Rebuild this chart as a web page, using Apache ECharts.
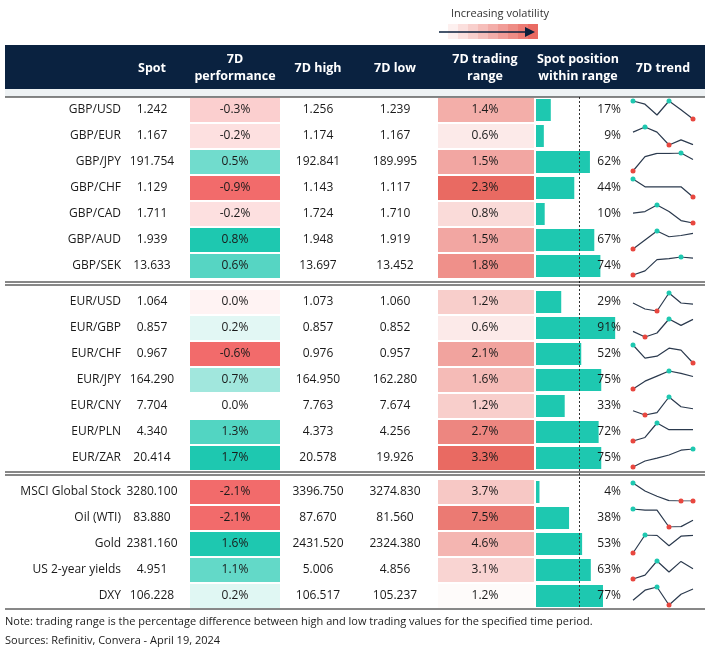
<!DOCTYPE html>
<html><head><meta charset="utf-8">
<script src="https://cdn.jsdelivr.net/npm/echarts@6/dist/echarts.min.js"></script>
<style>html,body{margin:0;padding:0;background:#fff}#c{width:711px;height:654px}</style>
</head><body><div id="c"></div>
<script>
var groups = [
  [
    ['GBP/USD', '1.242', -0.3, '1.256', '1.239', 1.4, 17, [50, 42, 15, 50, 28, 5]],
    ['GBP/EUR', '1.167', -0.2, '1.174', '1.167', 0.6, 9, [30, 42, 30, 0, 12, 1]],
    ['GBP/JPY', '191.754', 0.5, '192.841', '189.995', 1.5, 62, [0, 35, 43, 43, 44, 28]],
    ['GBP/CHF', '1.129', -0.9, '1.143', '1.117', 2.3, 44, [46, 26, 26, 26, 26, 0]],
    ['GBP/CAD', '1.711', -0.2, '1.724', '1.710', 0.8, 10, [24, 28, 44, 28, 6, 0]],
    ['GBP/AUD', '1.939', 0.8, '1.948', '1.919', 1.5, 67, [0, 22, 44, 30, 33, 38]],
    ['GBP/SEK', '13.633', 0.6, '13.697', '13.452', 1.8, 74, [0, 8, 30, 32, 35, 33]]
  ],
  [
    ['EUR/USD', '1.064', 0.0, '1.073', '1.060', 1.2, 29, [20, 5, 0, 45, 20, 17]],
    ['EUR/GBP', '0.857', 0.2, '0.857', '0.852', 0.6, 91, [14, 0, 10, 45, 29, 44]],
    ['EUR/CHF', '0.967', -0.6, '0.976', '0.957', 2.1, 52, [45, 12, 17, 37, 32, 0]],
    ['EUR/JPY', '164.290', 0.7, '164.950', '162.280', 1.6, 75, [0, 20, 33, 46, 40, 32]],
    ['EUR/CNY', '7.704', 0.0, '7.763', '7.674', 1.2, 33, [11, 0, 6, 46, 21, 16]],
    ['EUR/PLN', '4.340', 1.3, '4.373', '4.256', 2.7, 72, [0, 9, 46, 29, 29, 29]],
    ['EUR/ZAR', '20.414', 1.7, '20.578', '19.926', 3.3, 75, [0, 15, 22, 30, 42, 45]]
  ],
  [
    ['MSCI Global Stock', '3280.100', -2.1, '3396.750', '3274.830', 3.7, 4, [45, 25, 12, 1, 0, 0]],
    ['Oil (WTI)', '83.880', -2.1, '87.670', '81.560', 7.5, 38, [45, 42, 42, 0, 1, 17]],
    ['Gold', '2381.160', 1.6, '2431.520', '2324.380', 4.6, 53, [0, 45, 44, 18, 42, 44]],
    ['US 2-year yields', '4.951', 1.1, '5.006', '4.856', 3.1, 63, [0, 10, 46, 18, 45, 26]],
    ['DXY', '106.228', 0.2, '106.517', '105.237', 1.2, 77, [12, 37, 45, 0, 27, 40]]
  ]
]
var groupTop = [110, 302, 492]
var rowH = 26
var FONT = '"Open Sans", sans-serif'

function mix(c1, c2, t) {
  t = Math.max(0, Math.min(1, t))
  var a = echarts.color.parse(c1), b = echarts.color.parse(c2)
  return 'rgb(' + [0, 1, 2].map(function (i) { return Math.round(a[i] + (b[i] - a[i]) * t) }).join(',') + ')'
}

var graphic = [], grids = [], xAxes = [], yAxes = [], series = []
function txt(x, y, s, align, opt) {
  graphic.push({ type: 'text', x: x, y: y, z: 100, silent: true, style: Object.assign({
    text: s, x: 0, y: 0, align: align || 'center', verticalAlign: 'middle',
    font: '12px ' + FONT, fill: '#1a1a1a' }, opt || {}) })
}
function rect(x, y, w, h, fill) {
  graphic.push({ type: 'rect', silent: true, z: -10, shape: { x: x, y: y, width: w, height: h }, style: { fill: fill } })
}
function hline(y, x1, x2, w) {
  graphic.push({ type: 'line', silent: true, z: 100, shape: { x1: x1, y1: y, x2: x2, y2: y }, style: { stroke: '#111', lineWidth: w || 1 } })
}

// legend
txt(500, 14, 'Increasing volatility', 'center', { font: '11px ' + FONT, fill: '#333' })
for (var k = 0; k < 9; k++) rect(448 + k * 10, 24, 10, 15, mix('#fdf0ef', '#e96a62', k / 8))
graphic.push({ type: 'line', silent: true, shape: { x1: 439, y1: 32, x2: 527, y2: 32 }, style: { stroke: '#0a1f3c', lineWidth: 1.5 } })
graphic.push({ type: 'polygon', silent: true, shape: { points: [[525, 27], [535, 32], [525, 37]] }, style: { fill: '#0a1f3c' } })

// header
rect(5, 45, 700, 44, '#0a2240')
rect(5, 89, 700, 8, '#eef2f4')
hline(97, 5, 705, 1.2)
var hdr = [[152, 'Spot'], [235, '7D\nperformance'], [318, '7D high'], [395, '7D low'],
  [485, '7D trading\nrange'], [578, 'Spot position\nwithin range'], [663, '7D trend']]
hdr.forEach(function (h) {
  txt(h[0], 68, h[1], 'center', { font: 'bold 12.5px ' + FONT, fill: '#fff', lineHeight: 17 })
})

var idx = 0
groups.forEach(function (rows, g) {
  var posMax = 0, negMax = 0, rMin = 1e9, rMax = -1e9
  rows.forEach(function (r) {
    if (r[2] > posMax) posMax = r[2]
    if (r[2] < negMax) negMax = r[2]
    rMin = Math.min(rMin, r[5]); rMax = Math.max(rMax, r[5])
  })
  rows.forEach(function (r, i) {
    var yc = groupTop[g] + i * rowH
    var pc = r[2] > 0 ? mix('#e6f8f5', '#1ec8b0', (r[2] / posMax - 0.1) / 0.9)
      : r[2] < 0 ? mix('#fde3e3', '#f26b6b', (r[2] / negMax - 0.2) / 0.8)
      : (i === 0 ? '#fff3f3' : '#ffffff')
    rect(190, yc - 12, 90, 24, pc)
    var rc = mix('#ffffff', '#e96a62', (g === 2 ? 0.03 : 0.14) + 0.86 * (r[5] - rMin) / (rMax - rMin))
    rect(438, yc - 12, 96, 24, rc)
    txt(121, yc, r[0], 'right')
    txt(152, yc, r[1])
    txt(235, yc, r[2].toFixed(1) + '%')
    txt(318, yc, r[3])
    txt(395, yc, r[4])
    txt(485, yc, r[5].toFixed(1) + '%')

    // spot position bar
    grids.push({ left: 536, top: yc - 11, width: 87, height: 22 })
    xAxes.push({ gridIndex: idx * 2, type: 'value', min: 0, max: 100, show: false })
    yAxes.push({ gridIndex: idx * 2, type: 'category', data: [r[0]], show: false })
    series.push({ type: 'bar', xAxisIndex: idx * 2, yAxisIndex: idx * 2, data: [r[6]], z: 1,
      barWidth: 22, itemStyle: { color: '#1ec8b0' }, silent: true })
    txt(621, yc, r[6] + '%', 'right')

    // sparkline
    var d = r[7], mx = Math.max.apply(null, d), mn = Math.min.apply(null, d)
    grids.push({ left: 633, top: yc - 9, width: 60, height: 18 })
    xAxes.push({ gridIndex: idx * 2 + 1, type: 'category', boundaryGap: false, data: [1, 2, 3, 4, 5, 6], show: false })
    yAxes.push({ gridIndex: idx * 2 + 1, type: 'value', min: mn, max: mx, show: false })
    series.push({ type: 'line', xAxisIndex: idx * 2 + 1, yAxisIndex: idx * 2 + 1, silent: true,
      lineStyle: { color: '#2b3a4e', width: 1.2 }, symbolSize: 5,
      data: d.map(function (v) {
        if (v === mx) return { value: v, symbol: 'circle', itemStyle: { color: '#1ec8b0' } }
        if (v === mn) return { value: v, symbol: 'circle', itemStyle: { color: '#e8473f' } }
        return { value: v, symbol: 'none' }
      }) })
    idx++
  })
})
hline(282, 5, 705); hline(285, 5, 705)
hline(472, 5, 705); hline(475, 5, 705)
hline(609, 5, 705)
graphic.push({ type: 'line', silent: true, z: 50, shape: { x1: 579.5, y1: 97, x2: 579.5, y2: 609 },
  style: { stroke: '#333', lineWidth: 1, lineDash: [2, 2] } })

txt(5, 622, 'Note: trading range is the percentage difference between high and low trading values for the specified time period.', 'left', { font: '11px ' + FONT })
txt(5, 641, 'Sources: Refinitiv, Convera - April 19, 2024', 'left', { font: '11px ' + FONT })

var chart = echarts.init(document.getElementById('c'))
chart.setOption({
  animation: false,
  backgroundColor: '#fff',
  grid: grids, xAxis: xAxes, yAxis: yAxes, series: series,
  graphic: { elements: graphic }
})
</script></body></html>
